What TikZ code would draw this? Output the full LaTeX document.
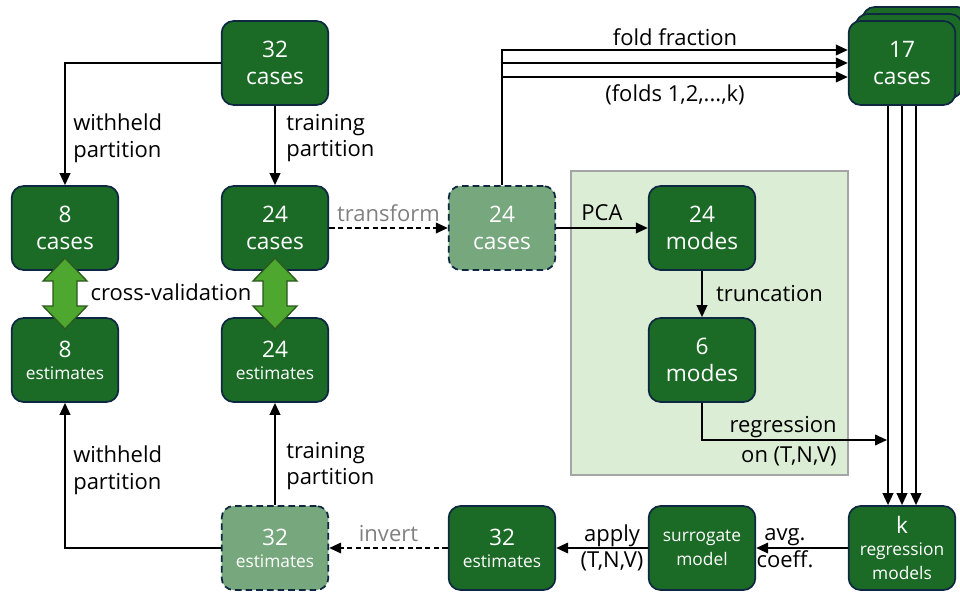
\documentclass[tikz,border=0pt]{standalone}
\usepackage{fontspec}
\setmainfont{Open Sans}
\usetikzlibrary{arrows.meta,calc}
\definecolor{dk}{HTML}{1B6B26}
\definecolor{lt}{HTML}{76A77D}
\definecolor{bd}{HTML}{0E2841}
\definecolor{panel}{HTML}{DCEDD5}
\definecolor{panelbd}{HTML}{A5A5A5}
\definecolor{dbl}{HTML}{4EA72E}
\definecolor{dblbd}{HTML}{2A5A1E}
\definecolor{gtxt}{HTML}{808080}
\tikzset{
 box/.style={draw=bd, line width=1.3pt, fill=dk, rounded corners=9pt, minimum width=80pt, minimum height=63pt, text=white, align=center, inner sep=0pt, font=\fontsize{17}{20.5}\selectfont},
 lbox/.style={box, fill=lt, dash pattern=on 5pt off 3pt},
 arr/.style={line width=1.3pt, -{Triangle[length=9pt,width=8pt]}},
 darr/.style={arr, dash pattern=on 4pt off 2.5pt},
 lbl/.style={font=\fontsize{16.5}{20}\selectfont, align=center, inner sep=0pt},
 glbl/.style={lbl, text=gtxt},
}
\newcommand{\sm}[1]{{\fontsize{13}{15.5}\selectfont #1}}
\begin{document}
\begin{tikzpicture}[x=0.75pt,y=-0.75pt]
\clip (0,0) rectangle (960,592);
\fill[white] (0,0) rectangle (960,592);
% panel
\draw[fill=panel, draw=panelbd, line width=1.5pt] (571,171) rectangle (848,475);
% nodes
\node[box] (c32) at (275,63) {32\\cases};
\node[box] (c8) at (65,228) {8\\cases};
\node[box] (c24) at (275,228) {24\\cases};
\node[box] (e8) at (65,360) {8\\[-4pt]\sm{estimates}};
\node[box] (e24) at (275,360) {24\\[-4pt]\sm{estimates}};
\node[lbox] (t24) at (502,228) {24\\cases};
\node[box] (m24) at (702,228) {24\\modes};
\node[box] (m6) at (702,360) {6\\modes};
\node[box] (s17c) at (916,49) {};
\node[box] (s17b) at (909,56) {};
\node[box] (s17) at (902,63) {17\\cases};
\node[box] (kreg) at (902,548) {k\\[-4pt]\sm{regression}\\[-3pt]\sm{models}};
\node[box] (sur) at (702,548) {\sm{surrogate}\\[-3pt]\sm{model}};
\node[box] (e32) at (502,548) {32\\[-4pt]\sm{estimates}};
\node[lbox] (l32) at (275,548) {32\\[-4pt]\sm{estimates}};
% double arrows
\foreach \cx in {65,275}{
\draw[fill=dbl, draw=dblbd, line width=1pt] (\cx,258) -- (\cx+22,281) -- (\cx+12,281) -- (\cx+12,306) -- (\cx+22,306) -- (\cx,329) -- (\cx-22,306) -- (\cx-12,306) -- (\cx-12,281) -- (\cx-22,281) -- cycle;
}
\node[lbl] (cv) at (171,292) {cross-validation};
% top-left arrows
\draw[arr] (c32.west) -| (c8.north);
\node[lbl, anchor=west, align=left] (wh1) at (73,138) {withheld\\partition};
\draw[arr] (c32.south) -- (c24.north);
\node[lbl, anchor=west, align=left] (tp1) at (286,138) {training\\partition};
% transform
\draw[darr] (c24.east) -- (t24.west) node[glbl, midway, above=4pt] {transform};
% folds
\draw[arr] (t24.north) |- ($(s17.west)+(0,-13)$);
\draw[arr] (t24.north |- s17.west) -- (s17.west);
\draw[arr] ($(t24.north |- s17.west)+(0,14)$) -- ($(s17.west)+(0,14)$);
\node[lbl] (ff) at (675,37) {fold fraction};
\node[lbl] (fk) at (675,95) {(folds 1,2,...,k)};
% 17 -> k
\foreach \dx in {-14,0,14}{
\draw[arr] ($(s17.south)+(\dx,0)$) -- ($(kreg.north)+(\dx,0)$);
}
% PCA
\draw[arr] (t24.east) -- (m24.west) node[lbl, midway, above=5pt] {PCA};
\draw[arr] (m24.south) -- (m6.north) node[lbl, midway, right=10pt] {truncation};
\coordinate (regend) at (887,440);
\draw[arr] (m6.south) |- (regend);
\node[lbl, anchor=east] (rg1) at (837,427) {regression};
\node[lbl, anchor=east] (rg2) at (837,456) {on (T,N,V)};
% bottom row
\draw[arr] (kreg.west) -- (sur.east);
\node[lbl] (avg) at (785,548) {avg.\\coeff.};
\draw[arr] (sur.west) -- (e32.east);
\node[lbl] (app) at (612,548) {apply\\(T,N,V)};
\draw[darr] (e32.west) -- (l32.east) node[glbl, midway, above=4pt] {invert};
\draw[arr] (l32.north) -- (e24.south);
\node[lbl, anchor=west, align=left] (tp2) at (286,466) {training\\partition};
\draw[arr] (l32.west) -| (e8.south);
\node[lbl, anchor=west, align=left] (wh2) at (73,470) {withheld\\partition};
\end{tikzpicture}
\end{document}
